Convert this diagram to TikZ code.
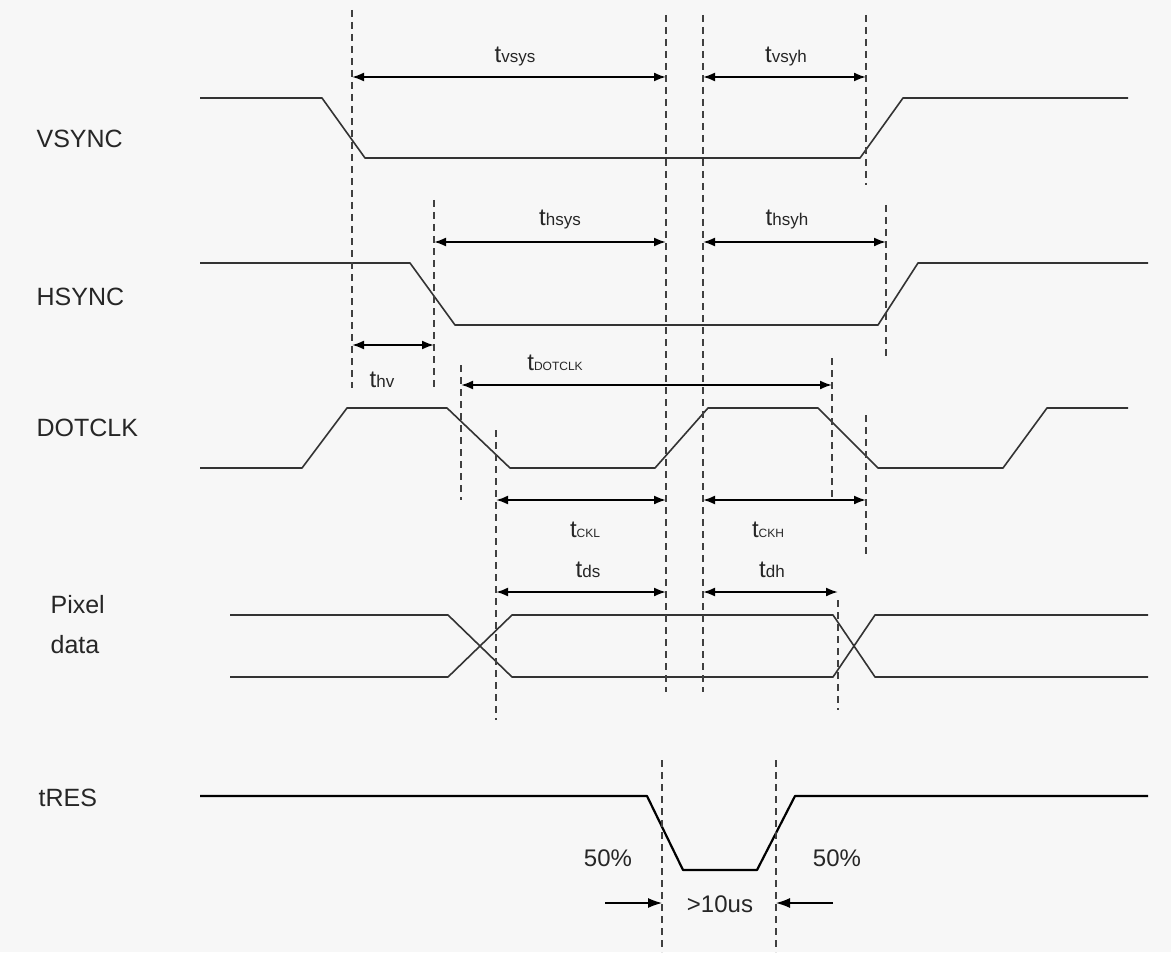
\documentclass[tikz,border=0pt]{standalone}
\usepackage{fontspec}
\setmainfont{Liberation Sans}
\usetikzlibrary{arrows.meta,positioning,calc}

\newcommand{\tsub}[1]{t{\fontsize{8.5}{8.5}\selectfont #1}}
\newcommand{\tcap}[1]{t{\fontsize{6}{6}\selectfont #1}}

\begin{document}
\begin{tikzpicture}[x=0.5pt, y=-0.5pt, >={Latex[length=6pt,width=4.5pt]}, semithick]
	\tikzstyle{wave}=[draw=black!80, line width=0.8pt, line join=round]
	\tikzstyle{guide}=[draw=black!75, dash pattern=on 3.5pt off 2.5pt, line width=0.55pt]
	\tikzstyle{span}=[<->, line width=1pt, black]
	\tikzstyle{marker}=[->, >={Latex[length=7pt,width=5pt]}, line width=0.6pt, black]
	\tikzstyle{signame}=[font=\fontsize{12.5}{14}\selectfont, anchor=west, inner sep=0pt, text=black!85]
	\tikzstyle{tlabel}=[font=\fontsize{12}{14}\selectfont, inner sep=0pt, text=black!85]
	\tikzstyle{pct}=[font=\fontsize{12}{14}\selectfont, inner sep=0pt, text=black!85]

	\fill[black!3] (0,0) rectangle (1171,952);
	\useasboundingbox (0,0) rectangle (1171,952);

	% signal names
	\node[signame] (vsync) at (36,139) {VSYNC};
	\node[signame] (hsync) at (36,297) {HSYNC};
	\node[signame] (dotclk) at (36,428) {DOTCLK};
	\node[signame] (pixel) at (50,605) {Pixel};
	\node[signame] (data) at (50,645) {data};
	\node[signame] (tres) at (38,798) {tRES};

	% waveforms
	\draw[wave] (200,98) -- (322,98) -- (365,158) -- (860,158) -- (903,98) -- (1128,98);
	\draw[wave] (200,263) -- (410,263) -- (455,325) -- (878,325) -- (918,263) -- (1148,263);
	\draw[wave] (200,468) -- (302,468) -- (347,408) -- (447,408) -- (510,468) -- (655,468)
		-- (708,408) -- (818,408) -- (878,468) -- (1003,468) -- (1047,408) -- (1128,408);
	\draw[wave] (230,615) -- (448,615) -- (512,677) -- (833,677) -- (875,615) -- (1148,615);
	\draw[wave] (230,677) -- (448,677) -- (512,615) -- (833,615) -- (875,677) -- (1148,677);
	\draw[wave, line width=1.1pt, draw=black] (200,796) -- (647,796) -- (683,870) -- (757,870) -- (795,796) -- (1148,796);

	% dashed guides
	\foreach \n/\x/\ya/\yb in {a/352/10/388, b/666/15/692, c/703/15/692, d/866/15/185,
		e/434/200/388, f/886/205/360, g/461/365/500, h/832/358/500, i/496/430/720,
		j/866/415/555, k/838/600/710, l/662/760/952, m/776/760/952}
	{
		\coordinate (\n-top) at (\x,\ya);
		\coordinate (\n-bot) at (\x,\yb);
		\draw[guide] (\n-top) -- (\n-bot);
	}

	% rows of the dimension arrows
	\coordinate (r-vs) at (0,77);
	\coordinate (r-hs) at (0,242);
	\coordinate (r-hv) at (0,345);
	\coordinate (r-clk) at (0,385);
	\coordinate (r-ck) at (0,500);
	\coordinate (r-d) at (0,592);
	\coordinate (r-res) at (0,903);
	\coordinate (res-l) at (605,903);
	\coordinate (res-r) at (833,903);

	\draw[span] (a-top |- r-vs) -- (b-top |- r-vs);
	\draw[span] (c-top |- r-vs) -- (d-top |- r-vs);
	\draw[span] (e-top |- r-hs) -- (b-top |- r-hs);
	\draw[span] (c-top |- r-hs) -- (f-top |- r-hs);
	\draw[span] (a-top |- r-hv) -- (e-top |- r-hv);
	\draw[span] (g-top |- r-clk) -- (h-top |- r-clk);
	\draw[span] (i-top |- r-ck) -- (b-top |- r-ck);
	\draw[span] (c-top |- r-ck) -- (j-top |- r-ck);
	\draw[span] (i-top |- r-d) -- (b-top |- r-d);
	\draw[span] (c-top |- r-d) -- (k-top |- r-d);
	\draw[marker] (res-l) -- (l-top |- r-res);
	\draw[marker] (res-r) -- (m-top |- r-res);

	% timing labels
	\node[tlabel] (tvsys) at (515,57) {\tsub{vsys}};
	\node[tlabel] (tvsyh) at (786,57) {\tsub{vsyh}};
	\node[tlabel] (thsys) at (560,220) {\tsub{hsys}};
	\node[tlabel] (thsyh) at (787,220) {\tsub{hsyh}};
	\node[tlabel] (thv) at (382,380) {\tsub{hv}};
	\node[tlabel] (tdotclk) at (555,363) {\tcap{DOTCLK}};
	\node[tlabel] (tckl) at (585,530) {\tcap{CKL}};
	\node[tlabel] (tckh) at (768,530) {\tcap{CKH}};
	\node[tlabel] (tds) at (588,570) {\tsub{ds}};
	\node[tlabel] (tdh) at (772,570) {\tsub{dh}};
	\node[pct] (pct-l) at (608,858) {50\%};
	\node[pct] (pct-r) at (837,858) {50\%};
	\node[pct] (width) at (720,904) {>10us};
\end{tikzpicture}
\end{document}
